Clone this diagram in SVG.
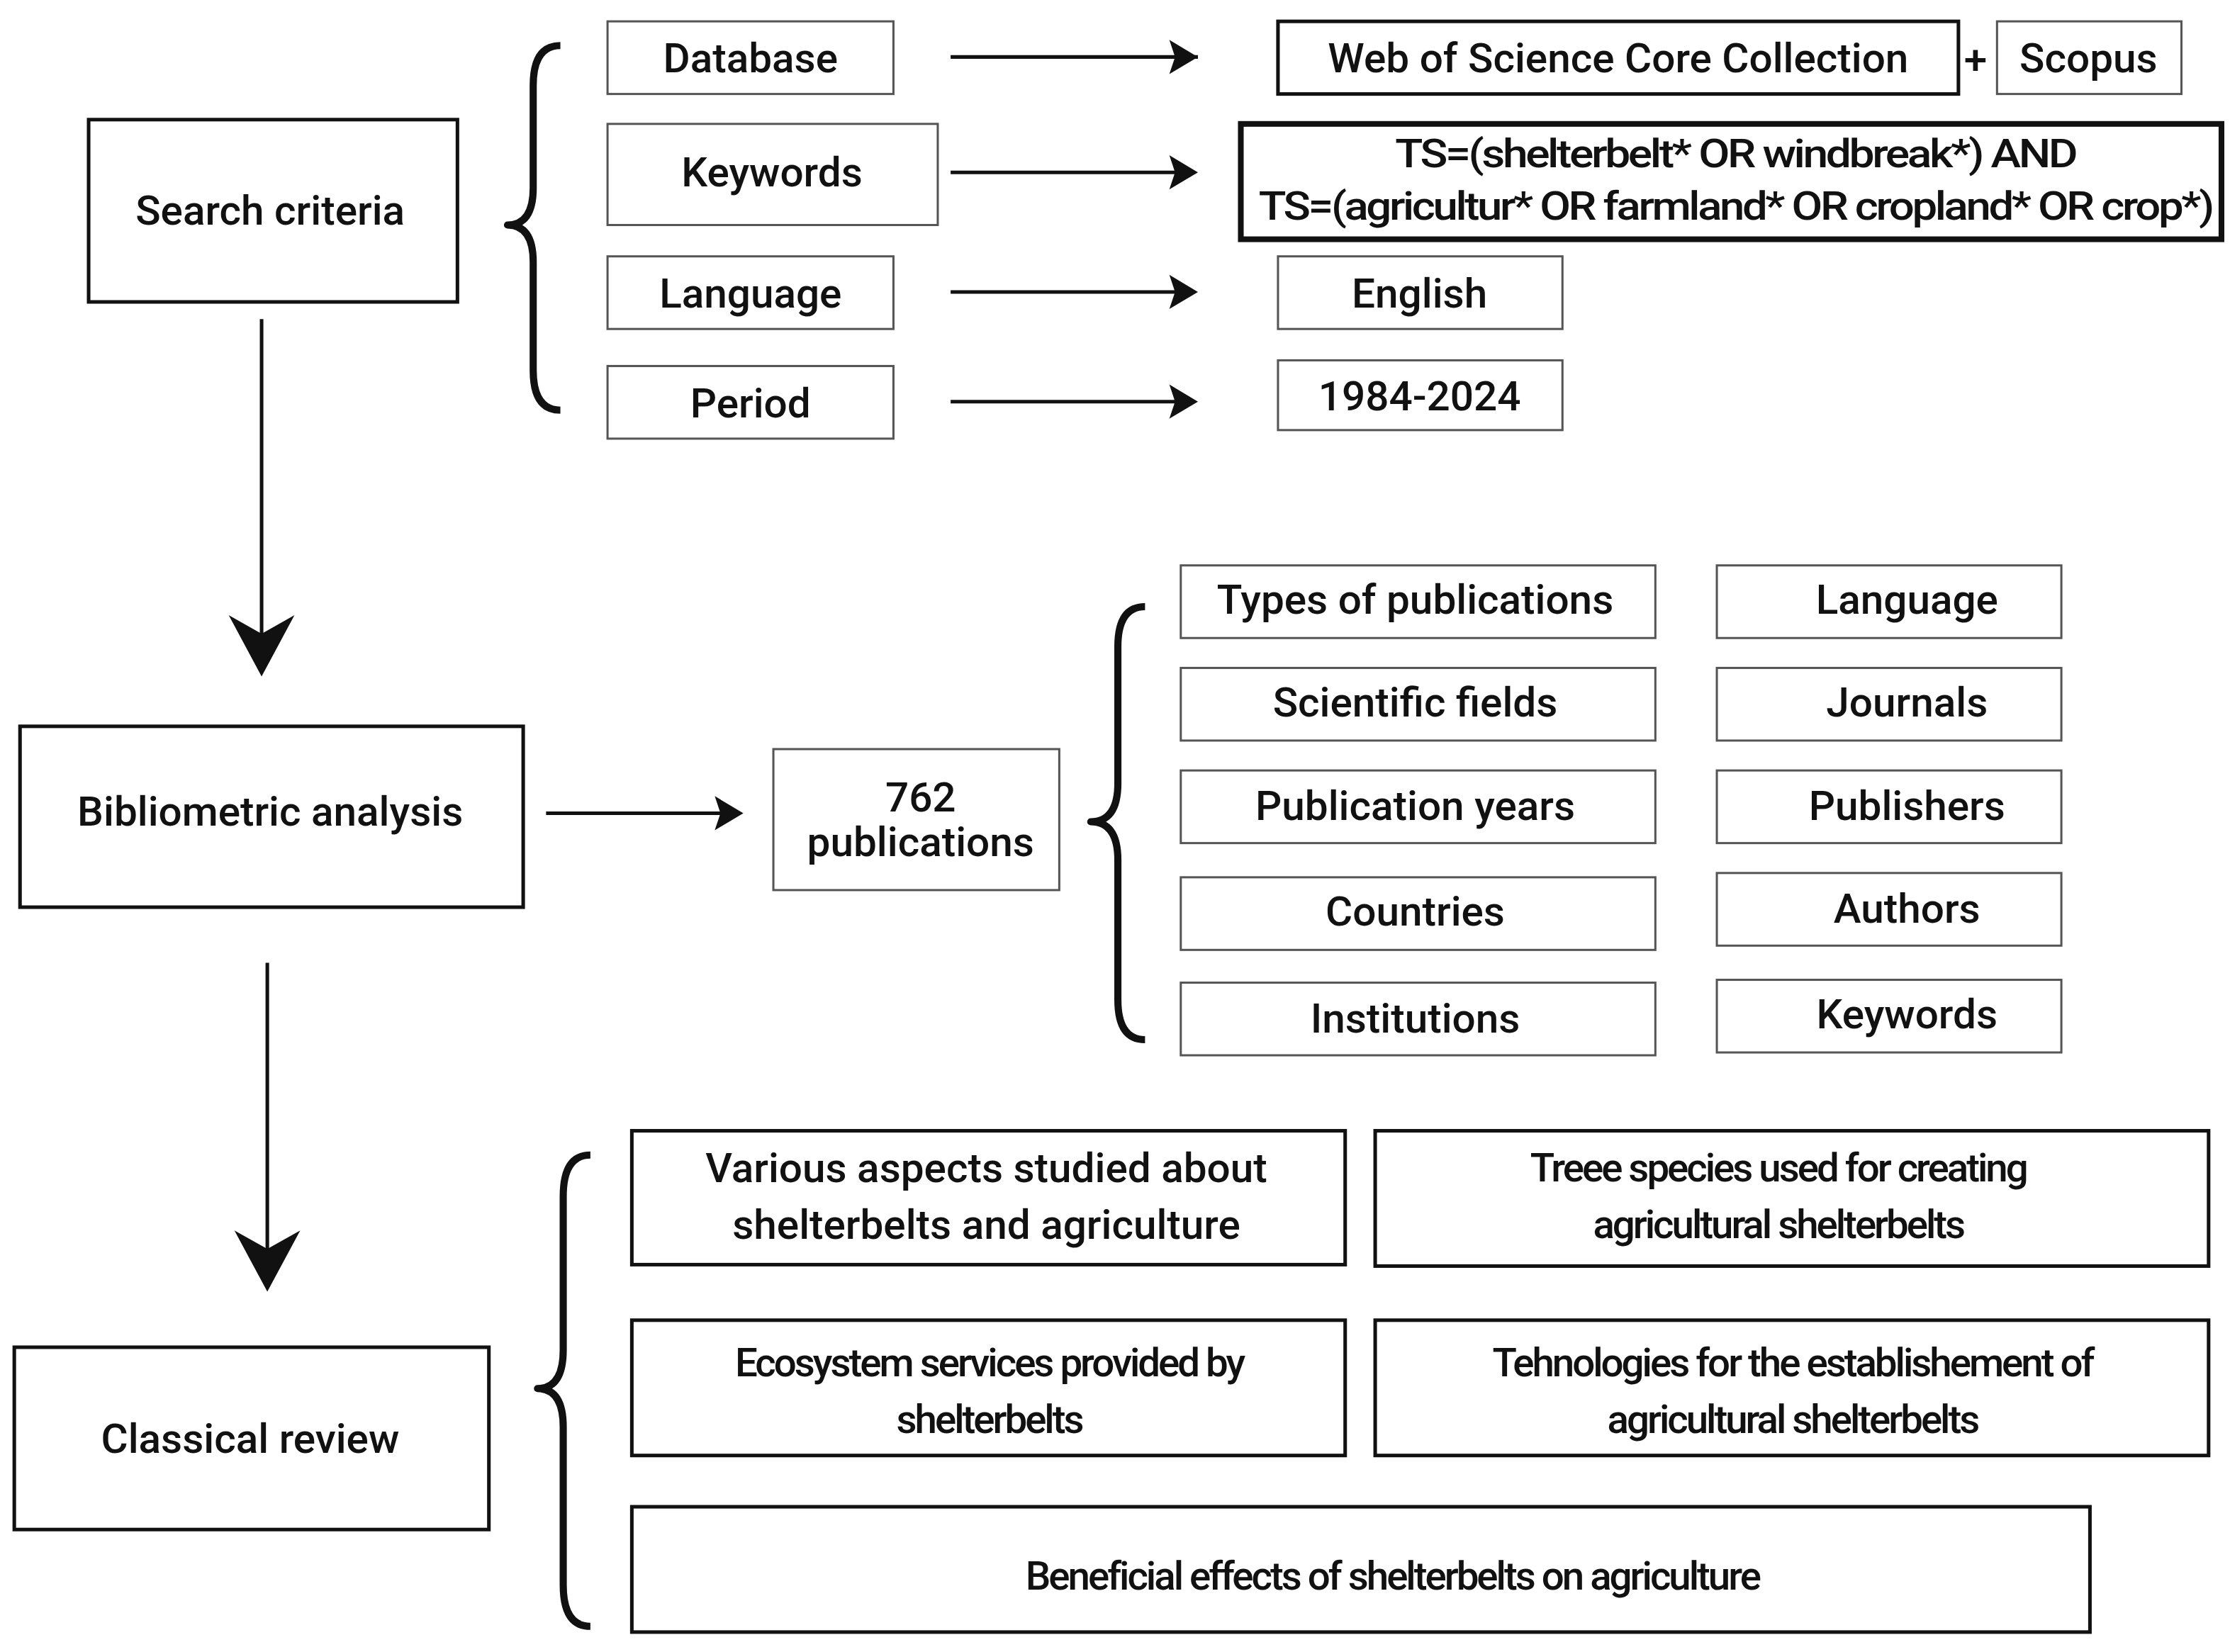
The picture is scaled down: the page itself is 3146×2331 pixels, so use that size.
<svg xmlns="http://www.w3.org/2000/svg" width="3146" height="2331" viewBox="0 0 3146 2331">
<style>
.b{fill:#fff;stroke:#111;stroke-width:2.5}
.t{stroke-width:4}
.g{stroke:#555;stroke-width:1.5}
text{font-family:Roboto,"Liberation Sans",sans-serif;font-weight:500;font-size:29px;fill:#111;text-anchor:middle;dominant-baseline:central}
.n{font-size:28px;letter-spacing:-1.5px}
.c{fill:none;stroke:#111;stroke-width:2.5}
.br{fill:none;stroke:#111;stroke-width:5;stroke-linejoin:round}
</style>
<defs>
<marker id="a" viewBox="0 0 10 10" refX="9" refY="5" markerWidth="9" markerHeight="9" markerUnits="userSpaceOnUse" orient="auto"><path d="M0,0 L10,5 L0,10 L2,5 Z" fill="#111"/></marker>
</defs>
<rect width="3146" height="2331" fill="#fff"/>
<g transform="scale(2.0167 2.0095)">
<g id="connectors">
<line class="c" x1="665" y1="40" x2="838" y2="40" marker-end="url(#a)" style="marker-end:none"/>
<path d="M838,40 L818,28 L822,40 L818,52 Z M838,121 L818,109 L822,121 L818,133 Z M838,205 L818,193 L822,205 L818,217 Z M838,282 L818,270 L822,282 L818,294 Z M520,571 L500,559 L504,571 L500,583 Z" fill="#111"/>
<line class="c" x1="665" y1="121" x2="825" y2="121"/>
<line class="c" x1="665" y1="205" x2="825" y2="205"/>
<line class="c" x1="665" y1="282" x2="825" y2="282"/>
<line class="c" x1="382" y1="571" x2="508" y2="571"/>
<line class="c" x1="183" y1="224" x2="183" y2="450" stroke-width="3.5"/>
<path d="M183,475 L160,432 L183,445 L206,432 Z" fill="#111"/>
<line class="c" x1="187" y1="676" x2="187" y2="880" stroke-width="3.5"/>
<path d="M187,907 L164,864 L187,877 L210,864 Z" fill="#111"/>
<path class="br" d="M392,32 Q373,32 373,60 L373,132 Q373,158 355,158 Q373,158 373,184 L373,260 Q373,288 392,288"/>
<path class="br" d="M801,426 Q782,426 782,454 L782,550 Q782,577 763,577 Q782,577 782,604 L782,702 Q782,730 801,730"/>
<path class="br" d="M413,811 Q394,811 394,840 L394,948 Q394,975 376,975 Q394,975 394,1002 L394,1113 Q394,1142 413,1142"/>
<text x="1382" y="42">+</text>
</g>
<g id="search"><rect class="b" x="62" y="84" width="258" height="128"/><text x="189" y="148">Search criteria</text></g>
<g id="database"><rect class="b g" x="425" y="15" width="200" height="51"/><text x="525" y="41">Database</text></g>
<g id="keywords"><rect class="b g" x="425" y="87" width="231" height="71"/><text x="540" y="121">Keywords</text></g>
<g id="language"><rect class="b g" x="425" y="180" width="200" height="51"/><text x="525" y="206">Language</text></g>
<g id="period"><rect class="b g" x="425" y="257" width="200" height="51"/><text x="525" y="283">Period</text></g>
<g id="wos"><rect class="b" x="894" y="15" width="476" height="51"/><text x="1132" y="41">Web of Science Core Collection</text></g>
<g id="scopus"><rect class="b g" x="1397" y="15" width="129" height="51"/><text x="1461" y="41">Scopus</text></g>
<g id="ts"><rect class="b t" x="868" y="87" width="686" height="81"/><text class="n" x="1214" y="108" textLength="476" lengthAdjust="spacingAndGlyphs">TS=(shelterbelt* OR windbreak*) AND</text><text class="n" x="1214" y="145" textLength="667" lengthAdjust="spacingAndGlyphs">TS=(agricultur* OR farmland* OR cropland* OR crop*)</text></g>
<g id="english"><rect class="b g" x="894" y="180" width="199" height="51"/><text x="993" y="206">English</text></g>
<g id="years"><rect class="b g" x="894" y="253" width="199" height="49"/><text x="993" y="278">1984-2024</text></g>
<g id="biblio"><rect class="b" x="14" y="510" width="352" height="127"/><text x="189" y="570">Bibliometric analysis</text></g>
<g id="pubs"><rect class="b g" x="541" y="526" width="200" height="99"/><text x="644" y="560">762</text><text x="644" y="591">publications</text></g>
<g id="types"><rect class="b g" x="826" y="397" width="332" height="51"/><text x="990" y="421">Types of publications</text></g>
<g id="fields"><rect class="b g" x="826" y="469" width="332" height="51"/><text x="990" y="493">Scientific fields</text></g>
<g id="pubyears"><rect class="b g" x="826" y="541" width="332" height="51"/><text x="990" y="566">Publication years</text></g>
<g id="countries"><rect class="b g" x="826" y="616" width="332" height="51"/><text x="990" y="640">Countries</text></g>
<g id="institutions"><rect class="b g" x="826" y="690" width="332" height="51"/><text x="990" y="715">Institutions</text></g>
<g id="lang2"><rect class="b g" x="1201" y="397" width="241" height="51"/><text x="1334" y="421">Language</text></g>
<g id="journals"><rect class="b g" x="1201" y="469" width="241" height="51"/><text x="1334" y="493">Journals</text></g>
<g id="publishers"><rect class="b g" x="1201" y="541" width="241" height="51"/><text x="1334" y="566">Publishers</text></g>
<g id="authors"><rect class="b g" x="1201" y="613" width="241" height="51"/><text x="1334" y="638">Authors</text></g>
<g id="kw2"><rect class="b g" x="1201" y="688" width="241" height="51"/><text x="1334" y="712">Keywords</text></g>
<g id="classical"><rect class="b" x="10" y="946" width="332" height="128"/><text x="175" y="1010">Classical review</text></g>
<g id="various"><rect class="b" x="442" y="794" width="499" height="94"/><text x="690" y="820">Various aspects studied about</text><text x="690" y="860">shelterbelts and agriculture</text></g>
<g id="treee"><rect class="b" x="962" y="794" width="583" height="95"/><text class="n" x="1244" y="820">Treee species used for creating</text><text class="n" x="1244" y="860">agricultural shelterbelts</text></g>
<g id="eco"><rect class="b" x="442" y="927" width="499" height="95"/><text class="n" x="692" y="957">Ecosystem services provided by</text><text class="n" x="692" y="997">shelterbelts</text></g>
<g id="tech"><rect class="b" x="962" y="927" width="583" height="95"/><text class="n" x="1254" y="957">Tehnologies for the establishement of</text><text class="n" x="1254" y="997">agricultural shelterbelts</text></g>
<g id="beneficial"><rect class="b" x="442" y="1058" width="1020" height="88"/><text class="n" x="974" y="1107">Beneficial effects of shelterbelts on agriculture</text></g>
</g>
</svg>
